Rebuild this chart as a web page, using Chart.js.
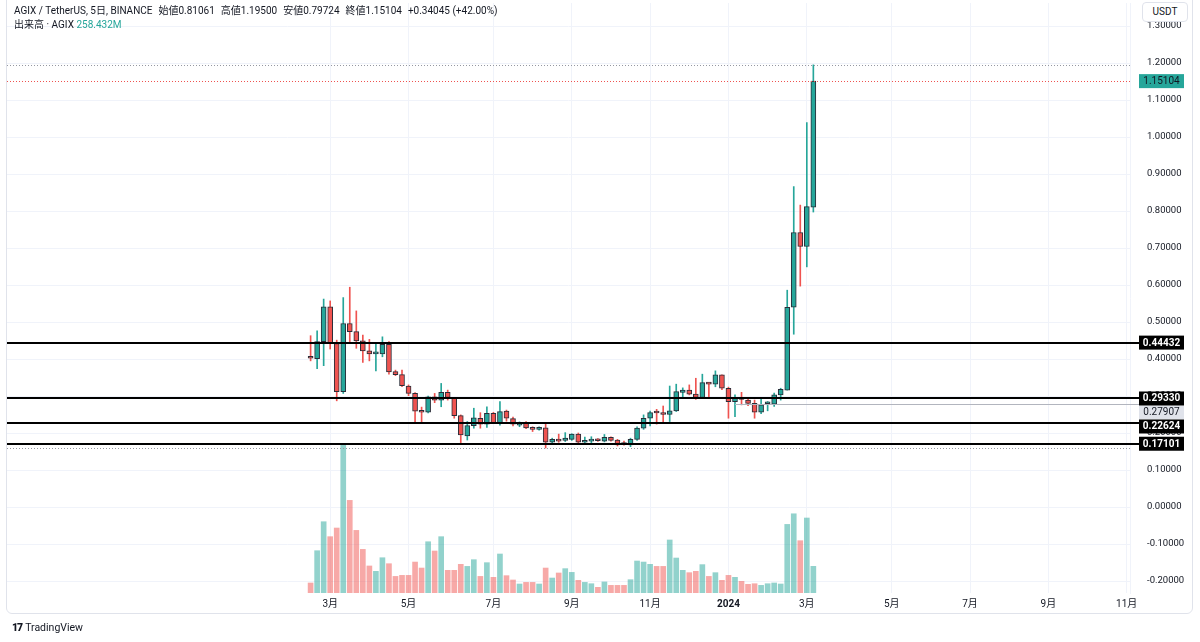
<!DOCTYPE html>
<html>
<head>
<meta charset="utf-8">
<script src="https://cdn.jsdelivr.net/npm/chart.js@4.4.1/dist/chart.umd.min.js"></script>
<style>
body { margin: 0; background: #fff; width: 1200px; height: 642px; overflow: hidden; font-family: Roboto, "Noto Sans CJK JP", sans-serif; color: #131722; }
#grafico { position: absolute; left: 0; top: 0; }
#moldura { position: absolute; left: 6px; top: -2px; width: 1187px; height: 616px; border: 1px solid #e0e3eb; border-radius: 0 0 6px 6px; box-sizing: border-box; pointer-events: none; }
.linha { position: absolute; left: 14px; font-size: 10px; line-height: 14px; white-space: nowrap; }
.linha span { margin-right: 6px; }
#usdt { position: absolute; left: 1142px; top: 2px; width: 46px; height: 20px; border: 1px solid #e0e3eb; border-radius: 4px; background: #fff; box-sizing: border-box; font: 10px Roboto, sans-serif; text-align: center; line-height: 18px; }
#logo { position: absolute; left: 12px; top: 621px; font: 10.5px Roboto, sans-serif; color: #131722; }
#logo b { font-weight: 900; letter-spacing: -1px; margin-right: 3px; }
</style>
</head>
<body>
<canvas id="grafico" width="1200" height="642"></canvas>
<div id="moldura"></div>
<div class="linha" style="top:4px"><span>AGIX / TetherUS, 5日, BINANCE</span><span>始値0.81061</span><span>高値1.19500</span><span>安値0.79724</span><span>終値1.15104</span><span>+0.34045 (+42.00%)</span></div>
<div class="linha" style="top:18px">出来高 · AGIX <span style="color:#26a69a">258.432M</span></div>
<div id="usdt">USDT</div>
<div id="logo"><b>17</b>TradingView</div>
<script>
// eixo de tempo: barras de 5 dias
const inicioEixo = "2022-06-30";
const fimEixo = "2024-11-01";
const inicioVelas = "2023-02-15";
const nomesMeses = { 3: "3月", 5: "5月", 7: "7月", 9: "9月", 11: "11月" };

const aberturas = [0.406, 0.401, 0.447, 0.541, 0.442, 0.312, 0.496, 0.474, 0.449, 0.422,
    0.414, 0.414, 0.440, 0.366, 0.358, 0.327, 0.307, 0.258, 0.256, 0.298,
    0.289, 0.310, 0.294, 0.247, 0.192, 0.220, 0.240, 0.224, 0.253, 0.228,
    0.259, 0.239, 0.221, 0.228, 0.214, 0.210, 0.214, 0.175, 0.183, 0.180,
    0.183, 0.197, 0.175, 0.178, 0.183, 0.178, 0.188, 0.181, 0.171, 0.168,
    0.183, 0.213, 0.240, 0.256, 0.255, 0.250, 0.260, 0.310, 0.316, 0.305,
    0.296, 0.337, 0.332, 0.357, 0.321, 0.285, 0.293, 0.289, 0.280, 0.256,
    0.279, 0.278, 0.303, 0.316, 0.540, 0.742, 0.704, 0.81061];
const maximas = [0.463, 0.476, 0.562, 0.557, 0.451, 0.566, 0.594, 0.530, 0.465, 0.453,
    0.442, 0.460, 0.447, 0.370, 0.370, 0.330, 0.309, 0.270, 0.300, 0.307,
    0.334, 0.316, 0.294, 0.249, 0.231, 0.267, 0.255, 0.271, 0.256, 0.285,
    0.262, 0.243, 0.230, 0.231, 0.217, 0.217, 0.226, 0.186, 0.197, 0.201,
    0.198, 0.200, 0.189, 0.190, 0.185, 0.196, 0.190, 0.183, 0.178, 0.186,
    0.217, 0.249, 0.259, 0.264, 0.273, 0.327, 0.332, 0.322, 0.330, 0.348,
    0.359, 0.337, 0.368, 0.357, 0.324, 0.303, 0.310, 0.296, 0.289, 0.291,
    0.285, 0.308, 0.321, 0.586, 0.866, 0.816, 1.039, 1.19500];
const minimas = [0.395, 0.374, 0.382, 0.427, 0.287, 0.307, 0.447, 0.429, 0.391, 0.395,
    0.368, 0.406, 0.359, 0.355, 0.325, 0.301, 0.226, 0.228, 0.254, 0.282,
    0.271, 0.289, 0.240, 0.174, 0.181, 0.213, 0.213, 0.215, 0.226, 0.221,
    0.232, 0.219, 0.217, 0.212, 0.204, 0.208, 0.1595, 0.171, 0.175, 0.177,
    0.180, 0.171, 0.174, 0.174, 0.177, 0.176, 0.178, 0.165, 0.167, 0.163,
    0.180, 0.210, 0.219, 0.224, 0.226, 0.231, 0.258, 0.298, 0.303, 0.291,
    0.294, 0.294, 0.325, 0.317, 0.240, 0.244, 0.276, 0.274, 0.240, 0.252,
    0.260, 0.272, 0.289, 0.316, 0.467, 0.597, 0.649, 0.79724];
const fechamentos = [0.402, 0.447, 0.541, 0.442, 0.312, 0.496, 0.474, 0.449, 0.422, 0.414,
    0.416, 0.440, 0.365, 0.358, 0.328, 0.307, 0.259, 0.256, 0.298, 0.289,
    0.310, 0.296, 0.247, 0.195, 0.220, 0.241, 0.224, 0.253, 0.228, 0.258,
    0.240, 0.224, 0.224, 0.214, 0.210, 0.215, 0.175, 0.183, 0.178, 0.186,
    0.197, 0.175, 0.177, 0.183, 0.179, 0.188, 0.180, 0.168, 0.169, 0.183,
    0.213, 0.240, 0.255, 0.254, 0.250, 0.260, 0.312, 0.316, 0.305, 0.296,
    0.336, 0.332, 0.357, 0.321, 0.285, 0.294, 0.291, 0.280, 0.256, 0.276,
    0.281, 0.303, 0.318, 0.540, 0.742, 0.704, 0.812, 1.15104];
// volume em milhões de AGIX
const volumes = [97, 410, 691, 546, 630, 1445, 898, 607, 423, 262,
    210, 342, 284, 161, 171, 171, 300, 242, 497, 407,
    546, 220, 220, 278, 258, 323, 161, 294, 152, 378,
    168, 126, 87, 103, 103, 87, 242, 145, 194, 236,
    200, 123, 103, 90, 55, 107, 74, 74, 74, 129,
    310, 300, 278, 258, 258, 514, 339, 220, 197, 210,
    275, 161, 197, 123, 171, 152, 113, 84, 90, 74,
    90, 97, 87, 665, 768, 507, 727, 258.432];

const niveis = [0.44432, 0.29330, 0.22624, 0.17101];
const nivelRaio = 0.27907;
const velaInicioRaio = 66;

const VERDE = "#26a69a";
const VERMELHO = "#ef5350";
const DIA = 86400000;

function paraData(s) {
    const p = s.split("-").map(Number);
    return Date.UTC(p[0], p[1] - 1, p[2]);
}

// rótulos do eixo x (uma posição por barra de 5 dias)
const datas = [];
for (let t = paraData(inicioEixo); t <= paraData(fimEixo); t += 5 * DIA) datas.push(t);
const primeiraVela = Math.round((paraData(inicioVelas) - paraData(inicioEixo)) / (5 * DIA));

const textoTick = datas.map((t, i) => {
    if (i === 0 || i < primeiraVela) return "";
    const d = new Date(t), ant = new Date(datas[i - 1]);
    const m = d.getUTCMonth() + 1;
    if (m === ant.getUTCMonth() + 1) return "";
    if (m === 1) return String(d.getUTCFullYear());
    return nomesMeses[m] || "";
});

const n = datas.length;
const corpos = new Array(n).fill(null);
const pavios = new Array(n).fill(null);
const vols = new Array(n).fill(null);
const cores = new Array(n).fill(VERDE);
const coresVol = new Array(n).fill("rgba(38,166,154,0.5)");

aberturas.forEach((o, i) => {
    const k = primeiraVela + i;
    const alta = fechamentos[i] >= o;
    corpos[k] = [o, fechamentos[i]];
    pavios[k] = [minimas[i], maximas[i]];
    vols[k] = volumes[i];
    cores[k] = alta ? VERDE : VERMELHO;
    coresVol[k] = alta ? "rgba(38,166,154,0.5)" : "rgba(239,83,80,0.5)";
});

const maxima = Math.max(...maximas);
const minima = Math.min(...minimas);
const ultimo = fechamentos[fechamentos.length - 1];

function caixa(ctx, y, texto, fundo, corTexto, negrito) {
    ctx.fillStyle = fundo;
    ctx.fillRect(1139, y - 7, 45, 14);
    ctx.fillStyle = corTexto;
    ctx.font = (negrito ? "bold " : "") + "10px Roboto, sans-serif";
    ctx.textAlign = "center";
    ctx.textBaseline = "middle";
    ctx.fillText(texto, 1161.5, y + 0.5);
}

const desenhos = {
    id: "desenhos",
    afterDatasetsDraw(chart) {
        const ctx = chart.ctx;
        const y = chart.scales.y;
        const x = chart.scales.x;
        const area = chart.chartArea;
        ctx.save();

        // linhas pontilhadas: máxima, mínima e último preço
        ctx.lineWidth = 1;
        ctx.setLineDash([1, 2]);
        [[maxima, "#9598a1"], [minima, "#9598a1"], [ultimo, VERMELHO]].forEach(([v, c]) => {
            const py = Math.round(y.getPixelForValue(v)) + 0.5;
            ctx.strokeStyle = c;
            ctx.beginPath();
            ctx.moveTo(area.left, py);
            ctx.lineTo(area.right, py);
            ctx.stroke();
        });
        ctx.setLineDash([]);

        // raio cinza
        const pr = Math.round(y.getPixelForValue(nivelRaio)) + 0.5;
        ctx.strokeStyle = "#b2b5be";
        ctx.beginPath();
        ctx.moveTo(x.getPixelForValue(primeiraVela + velaInicioRaio - 1), pr);
        ctx.lineTo(1139, pr);
        ctx.stroke();

        // níveis horizontais
        ctx.strokeStyle = "#000";
        ctx.lineWidth = 2;
        niveis.forEach(v => {
            const py = Math.round(y.getPixelForValue(v));
            ctx.beginPath();
            ctx.moveTo(area.left, py);
            ctx.lineTo(1139, py);
            ctx.stroke();
        });
        ctx.restore();
    },
    afterDraw(chart) {
        const ctx = chart.ctx;
        const y = chart.scales.y;
        ctx.save();
        caixa(ctx, y.getPixelForValue(ultimo), ultimo.toFixed(5), VERDE, "#131722", false);
        const itens = niveis.map(v => ({ v, fundo: "#000", cor: "#fff", negrito: true }));
        itens.push({ v: nivelRaio, fundo: "#e0e3eb", cor: "#131722", negrito: false });
        itens.sort((a, b) => b.v - a.v);
        let fundoAnterior = -1e9;
        const posicoes = itens.map(it => {
            let py = y.getPixelForValue(it.v);
            if (py - 7 < fundoAnterior) py = fundoAnterior + 7;
            fundoAnterior = py + 7;
            return py;
        });
        // o cinza fica por baixo dos pretos
        itens.forEach((it, i) => { if (!it.negrito) caixa(ctx, posicoes[i], it.v.toFixed(5), it.fundo, it.cor, false); });
        itens.forEach((it, i) => { if (it.negrito) caixa(ctx, posicoes[i], it.v.toFixed(5), it.fundo, it.cor, true); });
        ctx.restore();
    }
};

function semPadding(s) {
    s.paddingTop = 0;
    s.paddingBottom = 0;
    s.paddingLeft = 0;
    s.paddingRight = 0;
}

new Chart(document.getElementById("grafico"), {
    type: "bar",
    data: {
        labels: datas,
        datasets: [
            {
                label: "corpo",
                data: corpos,
                backgroundColor: cores,
                borderColor: "#2a2e39",
                borderWidth: 1,
                borderSkipped: false,
                barThickness: 5,
                minBarLength: 2,
                grouped: false,
                yAxisID: "y",
                order: 0
            },
            {
                label: "pavio",
                data: pavios,
                backgroundColor: cores,
                barThickness: 1,
                grouped: false,
                yAxisID: "y",
                order: 1
            },
            {
                label: "volume",
                data: vols,
                backgroundColor: coresVol,
                barThickness: 5,
                grouped: false,
                yAxisID: "v",
                order: 2
            }
        ]
    },
    options: {
        responsive: false,
        animation: false,
        devicePixelRatio: 1,
        layout: { padding: { left: 7, right: 8, top: 3, bottom: 29 } },
        plugins: { legend: { display: false }, tooltip: { enabled: false } },
        scales: {
            x: {
                offset: true,
                afterFit(s) { s.height = 20; semPadding(s); },
                afterBuildTicks(s) { s.ticks = s.ticks.filter(t => textoTick[t.value]); },
                grid: { offset: false, color: "#f0f3fa", drawTicks: false },
                border: { display: false },
                ticks: {
                    autoSkip: false,
                    maxRotation: 0,
                    padding: 5,
                    color: "#131722",
                    font: c => ({ family: "Roboto, 'Noto Sans CJK JP', sans-serif", size: 10, weight: /^\d{4}$/.test(c.tick && c.tick.label) ? "bold" : "normal" }),
                    callback: (v) => textoTick[v]
                }
            },
            y: {
                position: "right",
                min: -0.2324,
                max: 1.3622,
                afterFit(s) { s.width = 62; semPadding(s); },
                afterBuildTicks(s) {
                    s.ticks = s.ticks.filter(t => Math.abs(t.value * 10 - Math.round(t.value * 10)) < 1e-6);
                },
                grid: { color: "#f0f3fa", drawTicks: false },
                border: { color: "#f0f3fa" },
                ticks: {
                    stepSize: 0.1,
                    includeBounds: false,
                    padding: 17,
                    color: "#131722",
                    font: { family: "Roboto, sans-serif", size: 9.5 },
                    callback: v => Number(v).toFixed(5)
                }
            },
            v: {
                display: false,
                min: 0,
                max: 5720
            }
        }
    },
    plugins: [desenhos]
});
</script>
</body>
</html>
